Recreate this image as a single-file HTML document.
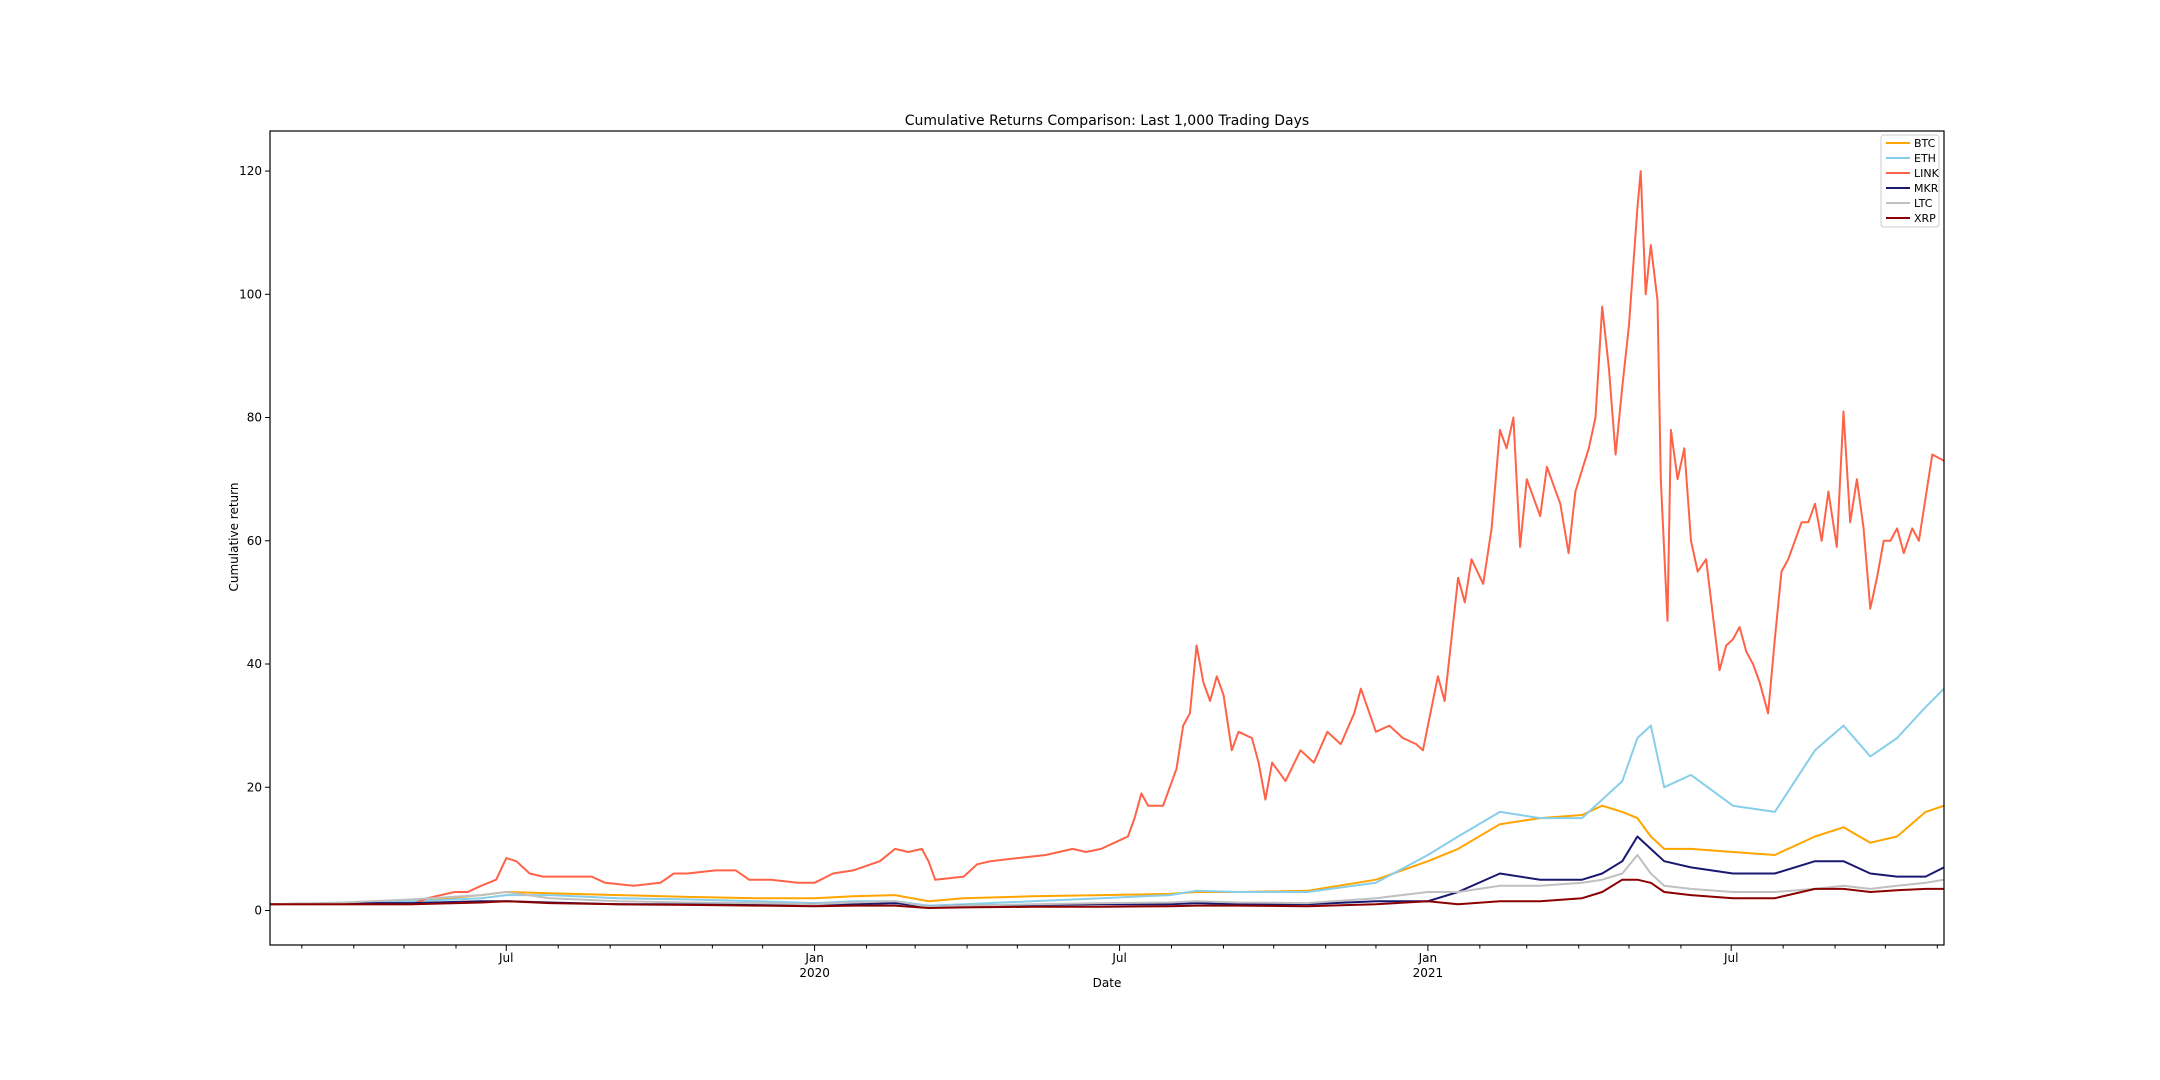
<!DOCTYPE html>
<html><head><meta charset="utf-8"><style>
html,body{margin:0;padding:0;background:#fff;}
svg{display:block;font-family:"DejaVu Sans","Liberation Sans",sans-serif;}
</style></head><body>
<svg id="chart" width="2160" height="1080" viewBox="0 0 2160 1080">
<rect x="0" y="0" width="2160" height="1080" fill="#fff"/>
<text x="1107" y="125" text-anchor="middle" font-size="14" fill="#000">Cumulative Returns Comparison: Last 1,000 Trading Days</text>
<text x="1107" y="987" text-anchor="middle" font-size="12" fill="#000">Date</text>
<text transform="translate(238,537) rotate(-90)" text-anchor="middle" font-size="12" fill="#000">Cumulative return</text>
<g id="grid"></g>
<g id="series"></g>
<g id="axes"></g>
<g id="legend"></g>
</svg>
<script>
// ----- data -----
const startDate = [2019, 1, 10]; // Feb 10 2019 (day 0)
const totalDays = 999;
const linkDays = [0,85,94,110,118,126,135,141,147,155,163,176,192,200,217,233,241,249,266,278,286,299,315,325,336,348,364,373,381,389,393,397,414,422,430,446,463,479,487,496,504,512,516,520,524,533,541,545,549,553,557,561,565,569,574,578,586,590,594,598,606,615,623,631,639,647,651,660,668,676,684,688,697,701,705,709,713,717,724,729,734,738,742,746,750,758,762,770,775,779,787,791,795,799,803,807,811,816,818,821,824,828,830,834,836,840,844,848,852,857,861,865,869,873,877,881,885,889,894,898,902,906,910,914,918,922,926,930,935,939,943,947,951,955,959,963,967,971,975,980,984,988,992,999];
const linkValues = [1,1,2,3,3,4,5,8.5,8,6,5.5,5.5,5.5,4.5,4,4.5,6,6,6.5,6.5,5,5,4.5,4.5,6,6.5,8,10,9.5,10,8,5,5.5,7.5,8,8.5,9,10,9.5,10,11,12,15,19,17,17,23,30,32,43,37,34,38,35,26,29,28,24,18,24,21,26,24,29,27,32,36,29,30,28,27,26,38,34,44,54,50,57,53,62,78,75,80,59,70,64,72,66,58,68,75,80,98,88,74,85,95,114,120,100,108,99,70,47,78,70,75,60,55,57,48,39,43,44,46,42,40,37,32,44,55,57,60,63,63,66,60,68,59,81,63,70,62,49,54,60,60,62,58,62,60,67,74,73];
const gridDays = [0,44,85,126,141,167,208,249,290,325,348,373,393,414,455,496,537,553,578,619,660,691,709,734,758,783,795,807,816,824,832,848,873,898,922,939,955,971,988,999];
const btcValues = [1,1.2,1.5,2.5,3,2.8,2.5,2.2,2,2,2.3,2.5,1.5,2,2.3,2.5,2.7,3,3,3.2,5,8,10,14,15,15.5,17,16,15,12,10,10,9.5,9,12,13.5,11,12,16,17];
const ethValues = [1,1.2,1.5,2,2.5,2.5,2,1.8,1.5,1.2,1.5,1.5,0.8,1,1.5,2,2.5,3.2,3,3,4.5,9,12,16,15,15,18,21,28,30,20,22,17,16,26,30,25,28,33,36];
const mkrValues = [1,1.2,1.2,1.5,1.5,1.3,1,1,1,1,1,1.2,0.6,0.8,0.9,1,1,1.2,1,1,1.5,1.5,3,6,5,5,6,8,12,10,8,7,6,6,8,8,6,5.5,5.5,7];
const ltcValues = [1,1.3,1.8,2.5,3,2,1.5,1.3,1.2,1,1.3,1.5,0.6,0.8,1,1.2,1.3,1.5,1.3,1.2,2,3,3,4,4,4.5,5,6,9,6,4,3.5,3,3,3.5,4,3.5,4,4.5,5];
const xrpValues = [1,1,1,1.3,1.5,1.2,1,0.9,0.8,0.7,0.8,0.8,0.4,0.5,0.6,0.6,0.7,0.8,0.8,0.7,1,1.5,1,1.5,1.5,2,3,5,5,4.5,3,2.5,2,2,3.5,3.5,3,3.3,3.5,3.5];
const seriesNames = ["BTC","ETH","LINK","MKR","LTC","XRP"];
const yTicks = [0,20,40,60,80,100,120];

// ----- layout -----
const L=270,R=1944,T=131,B=945;
const yMin=-5.6,yMax=126.5;
const NS="http://www.w3.org/2000/svg";
const xs=d=>L+(d/totalDays)*(R-L);
const ys=v=>B-(v-yMin)/(yMax-yMin)*(B-T);
function mk(tag,attrs,parent){const e=document.createElementNS(NS,tag);for(const k in attrs)e.setAttribute(k,attrs[k]);parent.appendChild(e);return e;}

const series=[
 {name:"BTC",days:gridDays,vals:btcValues,color:"#FFA500"},
 {name:"ETH",days:gridDays,vals:ethValues,color:"#87CEEB"},
 {name:"LINK",days:linkDays,vals:linkValues,color:"#FF6347"},
 {name:"MKR",days:gridDays,vals:mkrValues,color:"#191970"},
 {name:"LTC",days:gridDays,vals:ltcValues,color:"#C0C0C0"},
 {name:"XRP",days:gridDays,vals:xrpValues,color:"#8B0000"}];

const sg=document.getElementById('series');
series.forEach(s=>{
 const d=s.days.map((day,i)=>(i?'L':'M')+xs(day).toFixed(1)+','+ys(s.vals[i]).toFixed(1)).join(' ');
 const p=mk('path',{d:d,fill:'none',stroke:s.color,'stroke-width':2,'stroke-linejoin':'round'},sg);
 
 
});

// axes
const ag=document.getElementById('axes');
const frame=mk('rect',{x:L,y:T,width:R-L,height:B-T,fill:'none',stroke:'#000','stroke-width':1.2},ag);


yTicks.forEach(v=>{
 const y=ys(v);
 const t=mk('line',{x1:L-5,x2:L,y1:y,y2:y,stroke:'#000','stroke-width':1},ag);
 
 
 const tx=mk('text',{x:L-8,y:y+4,'text-anchor':'end','font-size':12},ag);
 tx.textContent=v;
 
 
});
const months=["Jan","Feb","Mar","Apr","May","Jun","Jul","Aug","Sep","Oct","Nov","Dec"];
const s0=Date.UTC(startDate[0],startDate[1],startDate[2]);
for(let y=2019;y<=2021;y++)for(let m=0;m<12;m++){
 const day=(Date.UTC(y,m,1)-s0)/86400000;
 if(day<0||day>totalDays)continue;
 const x=xs(day), major=(m===0||m===6);
 const t=mk('line',{x1:x,x2:x,y1:B,y2:B+(major?6:3.5),stroke:'#000','stroke-width':1},ag);
 
 
 if(major){
  const tx=mk('text',{x:x,y:B+17,'text-anchor':'middle','font-size':12},ag);
  tx.textContent=months[m];
  
  
  if(m===0){
   const ty=mk('text',{x:x,y:B+32,'text-anchor':'middle','font-size':12},ag);
   ty.textContent=y;
   
   
  }
 }
}
// legend
const lg=document.getElementById('legend');


const box=mk('rect',{x:1881,y:135,width:58,height:92,rx:3,fill:'#fff','fill-opacity':0.8,stroke:'#ccc','stroke-width':1},lg);


series.forEach((s,i)=>{
 const y=143+i*15;
 const ln=mk('line',{x1:1886,x2:1910,y1:y,y2:y,stroke:s.color,'stroke-width':2},lg);
 
 
 const tx=mk('text',{x:1914,y:y+4,'font-size':11},lg);
 tx.textContent=seriesNames[i];
 
 
});
</script>
</body></html>
